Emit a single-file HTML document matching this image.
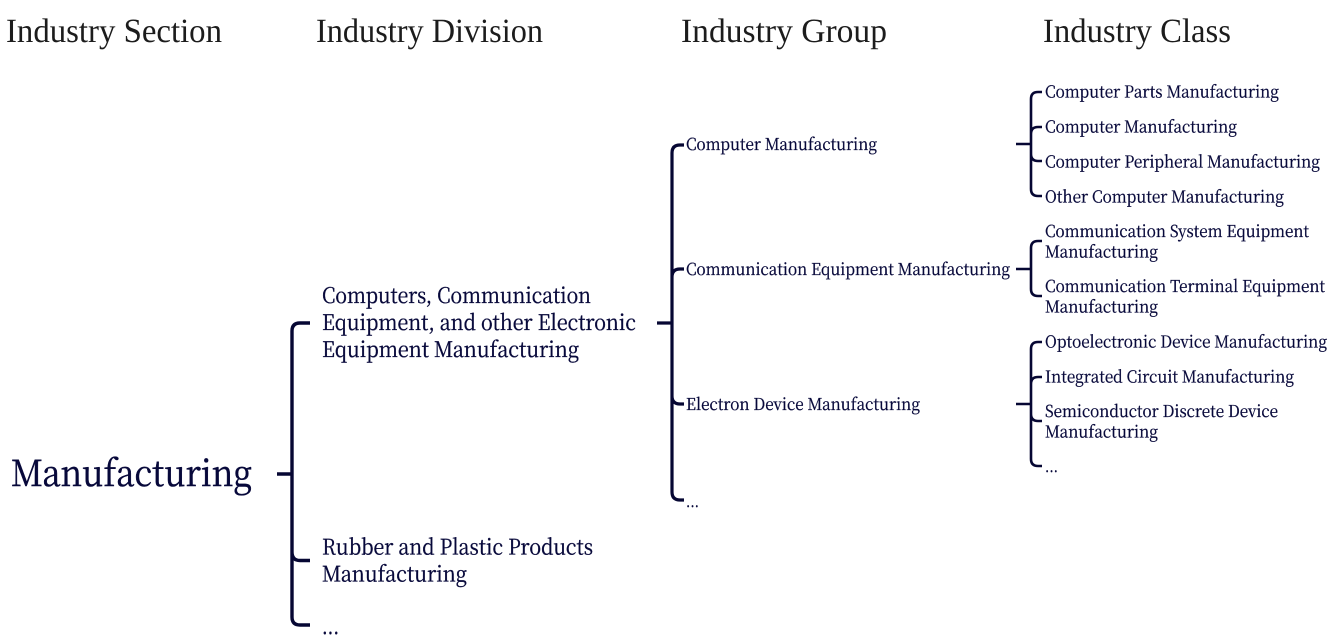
<!DOCTYPE html>
<html><head><meta charset="utf-8">
<style>
html,body{margin:0;padding:0;background:#fff;width:1338px;height:639px;overflow:hidden}
svg{display:block}
.h{font-family:"Liberation Serif",serif;font-size:34px;fill:#1c1c1c}
.t{font-family:"Noto Serif CJK SC","DejaVu Serif",serif;fill:#07083a;stroke:#07083a}
.s{font-size:16.5px;stroke-width:.3px}.m{font-size:21.5px;stroke-width:.35px}.l{font-size:36px;stroke-width:.5px}
path{fill:none;stroke:#060733;stroke-linecap:butt}
</style></head><body>
<svg width="1338" height="639" viewBox="0 0 1338 639" xmlns="http://www.w3.org/2000/svg">
<g text-rendering="geometricPrecision">
<text class="h" x="6" y="42" textLength="216" lengthAdjust="spacingAndGlyphs">Industry Section</text>
<text class="h" x="316" y="42" textLength="227" lengthAdjust="spacingAndGlyphs">Industry Division</text>
<text class="h" x="681" y="42" textLength="206" lengthAdjust="spacingAndGlyphs">Industry Group</text>
<text class="h" x="1043" y="42" textLength="188" lengthAdjust="spacingAndGlyphs">Industry Class</text>

<text class="t l" x="11" y="486" textLength="241" lengthAdjust="spacingAndGlyphs">Manufacturing</text>

<text class="t m" x="322" y="303" textLength="269" lengthAdjust="spacingAndGlyphs">Computers, Communication</text>
<text class="t m" x="322" y="330" textLength="314" lengthAdjust="spacingAndGlyphs">Equipment, and other Electronic</text>
<text class="t m" x="322" y="357" textLength="257" lengthAdjust="spacingAndGlyphs">Equipment Manufacturing</text>
<text class="t m" x="322" y="554.5" textLength="271" lengthAdjust="spacingAndGlyphs">Rubber and Plastic Products</text>
<text class="t m" x="322" y="581.5" textLength="145" lengthAdjust="spacingAndGlyphs">Manufacturing</text>
<text class="t m" x="322" y="634" textLength="17" lengthAdjust="spacingAndGlyphs">...</text>

<text class="t s" x="686" y="150" textLength="191" lengthAdjust="spacingAndGlyphs">Computer Manufacturing</text>
<text class="t s" x="686" y="275" textLength="324" lengthAdjust="spacingAndGlyphs">Communication Equipment Manufacturing</text>
<text class="t s" x="686" y="410" textLength="234" lengthAdjust="spacingAndGlyphs">Electron Device Manufacturing</text>
<text class="t s" x="686" y="507" textLength="13" lengthAdjust="spacingAndGlyphs">...</text>

<text class="t s" x="1045" y="97.5" textLength="234" lengthAdjust="spacingAndGlyphs">Computer Parts Manufacturing</text>
<text class="t s" x="1045" y="132.5" textLength="192" lengthAdjust="spacingAndGlyphs">Computer Manufacturing</text>
<text class="t s" x="1045" y="167.5" textLength="275" lengthAdjust="spacingAndGlyphs">Computer Peripheral Manufacturing</text>
<text class="t s" x="1045" y="202.5" textLength="239" lengthAdjust="spacingAndGlyphs">Other Computer Manufacturing</text>
<text class="t s" x="1045" y="237" textLength="264" lengthAdjust="spacingAndGlyphs">Communication System Equipment</text>
<text class="t s" x="1045" y="257.5" textLength="113" lengthAdjust="spacingAndGlyphs">Manufacturing</text>
<text class="t s" x="1045" y="292" textLength="280" lengthAdjust="spacingAndGlyphs">Communication Terminal Equipment</text>
<text class="t s" x="1045" y="312.5" textLength="113" lengthAdjust="spacingAndGlyphs">Manufacturing</text>
<text class="t s" x="1045" y="347.5" textLength="282" lengthAdjust="spacingAndGlyphs">Optoelectronic Device Manufacturing</text>
<text class="t s" x="1045" y="382.5" textLength="249" lengthAdjust="spacingAndGlyphs">Integrated Circuit Manufacturing</text>
<text class="t s" x="1045" y="417" textLength="233" lengthAdjust="spacingAndGlyphs">Semiconductor Discrete Device</text>
<text class="t s" x="1045" y="437.5" textLength="113" lengthAdjust="spacingAndGlyphs">Manufacturing</text>
<text class="t s" x="1045" y="472" textLength="13" lengthAdjust="spacingAndGlyphs">...</text>
</g>

<path stroke-width="3.4" d="M277 474H292 M310 323H300Q292 323 292 331V617Q292 625 300 625H310 M310 560.5H300Q292 560.5 292 552"/>
<path stroke-width="3.2" d="M657 323H672 M684 145H680Q672 145 672 153V492Q672 500 680 500H684 M684 269H680Q672 269 672 277 M684 404H680Q672 404 672 396"/>
<path stroke-width="2.6" d="M1016 144H1031 M1042 92H1038Q1031 92 1031 99V189Q1031 196 1038 196H1042 M1042 127H1038Q1031 127 1031 134 M1042 161H1038Q1031 161 1031 154"/>
<path stroke-width="2.6" d="M1016 269H1031 M1042 241H1038Q1031 241 1031 248V289Q1031 296 1038 296H1042"/>
<path stroke-width="2.6" d="M1016 404H1031 M1042 342H1038Q1031 342 1031 349V459Q1031 466 1038 466H1042 M1042 377H1038Q1031 377 1031 384 M1042 421H1038Q1031 421 1031 414"/>
</svg>
</body></html>
